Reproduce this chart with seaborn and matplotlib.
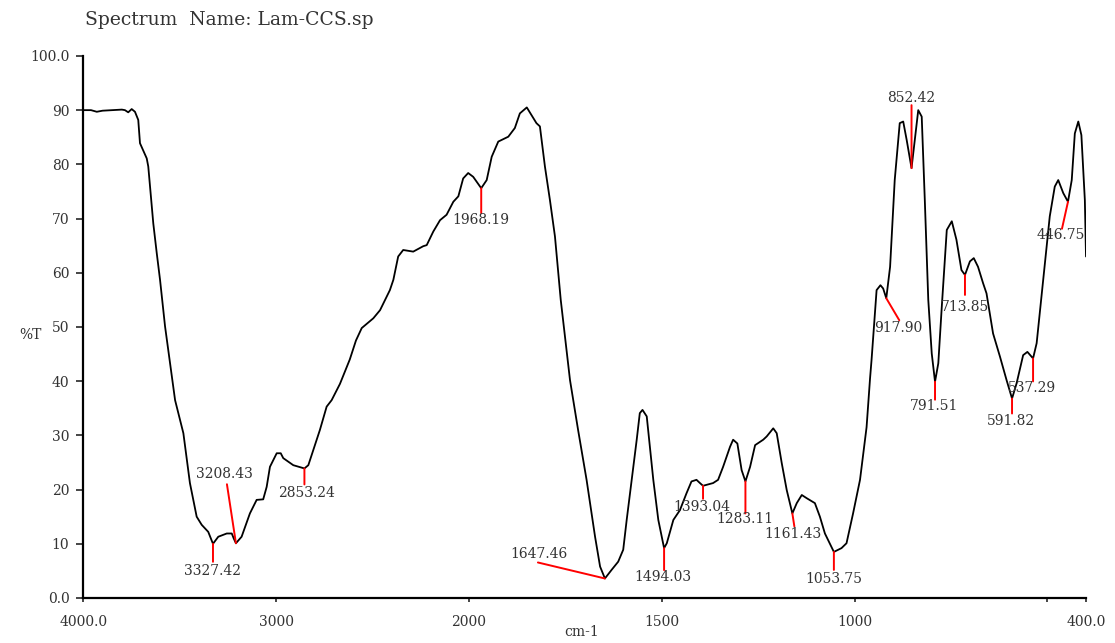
import numpy as np
import pandas as pd
import matplotlib
matplotlib.use("Agg")
import matplotlib.pyplot as plt
import seaborn as sns

# FTIR spectrum of Lam-CCS: wavenumber (cm-1) and transmittance (%T)
wavenumber = [
    4000, 3960, 3930, 3900, 3800, 3784, 3767, 3749, 3732, 3715, 3706, 3671, 3663, 3654,
    3637, 3619, 3602, 3576, 3524, 3481, 3447, 3412, 3386, 3352, 3327.42, 3300, 3256, 3230,
    3220, 3208.43, 3179, 3136, 3101, 3067, 3049, 3032, 2997, 2976, 2963, 2911, 2853.24,
    2833, 2807, 2773, 2738, 2712, 2669, 2618, 2586, 2556, 2496, 2461, 2410, 2392, 2367,
    2341, 2289, 2237, 2219, 2185, 2150, 2116, 2081, 2055, 2030, 2004, 1989, 1968.19, 1954,
    1941, 1924, 1898, 1881, 1868, 1850, 1825, 1816, 1803, 1790, 1777, 1762, 1738, 1717, 1695,
    1673, 1660, 1647.46, 1630, 1613, 1600, 1591, 1578, 1565, 1557, 1550, 1539, 1531, 1522,
    1509, 1494.03, 1487, 1470, 1453, 1436, 1423, 1410, 1401, 1393.04, 1367, 1354, 1341,
    1323, 1315, 1304, 1293, 1283.11, 1271, 1258, 1237, 1228, 1211, 1202, 1189, 1176,
    1161.43, 1150, 1137, 1124, 1103, 1090, 1077, 1053.75, 1034, 1021, 1004, 986, 969, 960,
    956, 943, 933, 926, 917.90, 908, 896, 883, 874, 865, 852.42, 844, 835, 826, 818, 809,
    800, 791.51, 783, 774, 761, 748, 736, 723, 713.85, 701, 691, 680, 667, 658, 641, 623,
    606, 591.82, 580, 563, 552, 537.29, 528, 511, 494, 481, 472, 459, 446.75, 437, 429,
    420, 412, 403, 400,
]
transmittance = [
    90.0, 90.0, 89.7, 89.9, 90.1, 90.0, 89.6, 90.2, 89.7, 88.2, 83.9, 81.1, 79.6, 75.9,
    69.1, 63.6, 58.7, 50.1, 36.5, 30.4, 21.2, 15.0, 13.5, 12.2, 10.0, 11.3, 11.9, 11.9,
    11.0, 10.1, 11.3, 15.6, 18.1, 18.2, 20.5, 24.2, 26.7, 26.7, 25.8, 24.5, 23.9,
    24.5, 27.3, 31.0, 35.3, 36.5, 39.5, 44.0, 47.5, 49.8, 51.6, 53.1, 56.8, 58.7, 63.0,
    64.2, 63.9, 64.9, 65.1, 67.6, 69.7, 70.7, 73.1, 74.1, 77.4, 78.4, 77.7, 75.6, 77.1,
    81.4, 84.2, 85.1, 86.7, 89.4, 90.5, 87.6, 87.0, 79.6, 73.4, 66.7, 55.0, 40.2, 31.0, 21.8,
    11.3, 5.8, 3.6, 5.2, 6.7, 8.9, 14.4, 21.8, 29.2, 34.1, 34.7, 33.5, 27.9, 21.8,
    14.4, 9.2, 10.1, 14.4, 16.2, 19.3, 21.5, 21.8, 21.2, 20.7, 21.2, 21.8, 24.2,
    27.9, 29.2, 28.5, 23.6, 21.5, 24.2, 28.2, 29.2, 29.8, 31.3, 30.4, 24.9, 19.9,
    15.6, 17.5, 19.0, 18.4, 17.5, 15.0, 11.9, 8.5, 9.2, 10.1, 15.6, 21.8, 31.5, 40.5,
    44.0, 56.8, 57.7, 57.1, 55.3, 61.1, 77.1, 87.6, 87.9, 84.5, 79.3, 84.5, 90.0, 88.8, 73.4, 55.0,
    45.1, 39.9, 43.3, 53.7, 67.9, 69.5, 66.1, 60.5, 59.6, 62.1, 62.7, 61.1, 58.1, 56.2, 48.8, 44.5,
    40.2, 36.8, 39.6, 44.8, 45.4, 44.2, 47.0, 58.7, 70.4, 75.9, 77.1, 74.7, 73.1, 77.1, 85.7,
    87.9, 85.4, 73.4, 63.0,
]

# Peak-picked band positions (cm-1)
peak_positions = [3327.42, 3208.43, 2853.24, 1968.19, 1647.46, 1494.03, 1393.04, 1283.11,
                  1161.43, 1053.75, 917.90, 852.42, 791.51, 713.85, 591.82, 537.29, 446.75]

# Axis tick values and labels
x_ticks = [4000, 3000, 2000, 1500, 1000, 500, 400]
x_tick_labels = ["4000.0", "3000", "2000", "1500", "1000", "", "400.0"]
y_ticks = [0, 10, 20, 30, 40, 50, 60, 70, 80, 90, 100]
y_tick_labels = ["0.0", "10", "20", "30", "40", "50", "60", "70", "80", "90", "100.0"]

# Leader line end and label centre for each peak, pixel offsets from the band tip
leader_end = [(0, -18), (-9, 59), (0, -16), (0, -25), (-67, 16), (0, -22), (0, -13), (0, -32),
              (2, -13), (0, -18), (13, -22), (0, 63), (0, -18), (0, -20), (0, -15), (0, -23),
              (-6, -27)]
label_centre = [(0, -27), (-11, 69), (2, -25), (0, -32), (-66, 24), (-1, -29), (-1, -21),
                (-1, -38), (1, -21), (0, -27), (12, -30), (0, 70), (-1, -24), (0, -32),
                (-1, -22), (-1, -30), (-7, -33)]

sns.set_theme(style="ticks")
plt.rcParams["font.family"] = ["DejaVu Serif"]
text_color = "#333333"


# Spectrometer abscissa: region above 2000 cm-1 compressed by a factor of two
def forward(x):
    x = np.asarray(x, dtype=float)
    return np.where(x > 2000, 2000 + (x - 2000) / 2.0, x)


def inverse(t):
    t = np.asarray(t, dtype=float)
    return np.where(t > 2000, 2000 + (t - 2000) * 2.0, t)


df = pd.DataFrame({"wavenumber": wavenumber, "T": transmittance})

fig = plt.figure(figsize=(11.15, 6.43), dpi=100)
ax = fig.add_axes([0.0747, 0.070, 0.8993, 0.843])
ax.set_xscale("function", functions=(forward, inverse))

sns.lineplot(data=df, x="wavenumber", y="T", estimator=None, sort=False,
             color="black", lw=1.3, ax=ax)

ax.set_xlim(4000, 400)
ax.set_ylim(0, 100)
ax.set_xticks(x_ticks)
ax.set_xticklabels(x_tick_labels)
ax.set_yticks(y_ticks)
ax.set_yticklabels(y_tick_labels)
ax.xaxis.set_minor_locator(matplotlib.ticker.NullLocator())
ax.tick_params(axis="x", direction="out", length=3, width=1.2, pad=9,
               labelsize=10, labelcolor=text_color)
ax.tick_params(axis="y", direction="out", length=5, width=1.2, pad=5,
               labelsize=10, labelcolor=text_color)
for side in ("top", "right"):
    ax.spines[side].set_visible(False)
for side in ("left", "bottom"):
    ax.spines[side].set_linewidth(1.6)
    ax.spines[side].set_color("black")

ax.set_xlabel("")
ax.set_ylabel("")
fig.text(582 / 1115, 1 - 632 / 643, "cm-1", ha="center", va="center",
         fontsize=10, color=text_color)
fig.text(30 / 1115, 1 - 335 / 643, "%T", ha="center", va="center",
         fontsize=10, color=text_color)
fig.text(85 / 1115, 1 - 20 / 643, "Spectrum  Name: Lam-CCS.sp", ha="left", va="center",
         fontsize=13.5, color=text_color)

# Peak annotations: red leader lines with band positions
tips = np.interp(peak_positions, wavenumber[::-1], transmittance[::-1])
for pos, tip, (lx, ly), (tx, ty) in zip(peak_positions, tips, leader_end, label_centre):
    ax.annotate("", xy=(pos, tip), xytext=(lx, ly), textcoords="offset pixels",
                arrowprops=dict(arrowstyle="-", color="red", lw=1.4,
                                shrinkA=0, shrinkB=0))
    ax.annotate(f"{pos:.2f}", xy=(pos, tip), xytext=(tx, ty), textcoords="offset pixels",
                ha="center", va="center", fontsize=10, color=text_color)

fig.savefig("out.png", dpi=100)
